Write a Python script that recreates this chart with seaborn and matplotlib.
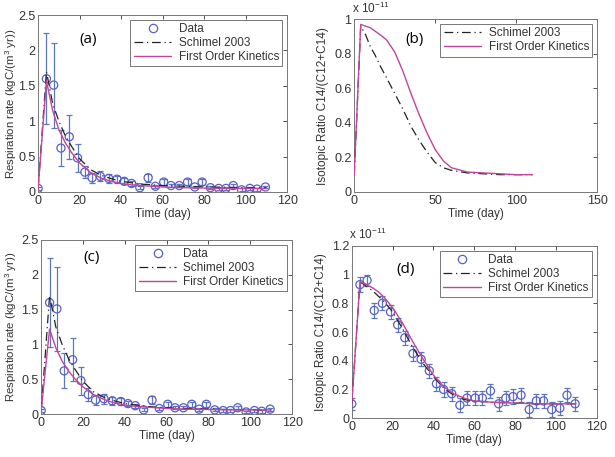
import numpy as np
import pandas as pd
import seaborn as sns
import matplotlib.pyplot as plt
from matplotlib.lines import Line2D

sns.set_style('white')
plt.rcParams['font.family'] = ['Liberation Sans', 'DejaVu Sans']
plt.rcParams['mathtext.fontset'] = 'custom'
plt.rcParams['mathtext.rm'] = 'Liberation Sans'

# measurement days
days = [0, 4, 7.5, 11, 15, 19, 22.5, 26, 30, 34, 38, 41.5, 45, 49, 53, 56.5,
        60.5, 64, 68, 72, 75.5, 79, 83, 87, 90.5, 94, 98, 102, 105.5, 109.5]

# respiration data (kgC/(m3 yr))
resp = [0.05, 1.6, 1.51, 0.62, 0.78, 0.48, 0.28, 0.2, 0.22, 0.19, 0.18, 0.15, 0.12, 0.06, 0.2,
        0.08, 0.14, 0.09, 0.09, 0.14, 0.07, 0.14, 0.06, 0.05, 0.05, 0.09, 0.03, 0.05, 0.04, 0.07]
resp_err = [0.02, 0.64, 0.6, 0.25, 0.31, 0.2, 0.09, 0.07, 0.07, 0.06, 0.05, 0.04, 0.03, 0.02, 0.06,
            0.02, 0.04, 0.02, 0.02, 0.04, 0.02, 0.04, 0.02, 0.02, 0.02, 0.02, 0.02, 0.02, 0.02, 0.02]

# isotopic ratio data (x 1e-11)
iso = [0.1, 0.93, 0.96, 0.75, 0.8, 0.74, 0.65, 0.56, 0.45, 0.41, 0.33, 0.24, 0.2, 0.17, 0.09,
       0.14, 0.14, 0.14, 0.19, 0.1, 0.14, 0.15, 0.16, 0.06, 0.12, 0.12, 0.06, 0.07, 0.16, 0.1]
iso_err = [0.04, 0.05, 0.04, 0.05, 0.05, 0.05, 0.05, 0.05, 0.05, 0.05, 0.05, 0.05, 0.05, 0.05, 0.05,
           0.05, 0.05, 0.05, 0.05, 0.05, 0.05, 0.05, 0.05, 0.05, 0.05, 0.05, 0.05, 0.05, 0.05, 0.05]

# model curves
t_model = [0, 4, 7, 10, 13, 16, 20, 25, 30, 35, 40, 45, 50, 55, 60, 70, 80, 90, 100, 110]
resp_schimel = [0.05, 1.70, 1.25, 1.0, 0.8, 0.65, 0.47, 0.32, 0.24, 0.19, 0.15, 0.13, 0.11, 0.10,
                0.09, 0.08, 0.07, 0.065, 0.06, 0.06]
resp_first_a = [0.05, 1.57, 1.15, 0.88, 0.7, 0.56, 0.41, 0.28, 0.2, 0.15, 0.12, 0.1, 0.09, 0.08,
                0.07, 0.06, 0.055, 0.05, 0.05, 0.05]
resp_first_c = [0.05, 1.22, 0.95, 0.76, 0.62, 0.51, 0.39, 0.28, 0.21, 0.16, 0.13, 0.11, 0.1, 0.09,
                0.08, 0.07, 0.065, 0.06, 0.06, 0.06]
iso_schimel_b = [0.1, 0.96, 0.91, 0.84, 0.79, 0.73, 0.66, 0.57, 0.48, 0.38, 0.30, 0.23, 0.17, 0.14,
                 0.125, 0.11, 0.105, 0.10, 0.10, 0.10]
iso_first_b = [0.1, 0.97, 0.96, 0.95, 0.93, 0.91, 0.88, 0.81, 0.70, 0.57, 0.45, 0.34, 0.245, 0.18,
               0.14, 0.115, 0.11, 0.105, 0.10, 0.10]
iso_schimel_d = [0.1, 0.95, 0.92, 0.89, 0.85, 0.81, 0.74, 0.62, 0.49, 0.38, 0.29, 0.21, 0.16, 0.13,
                 0.12, 0.11, 0.105, 0.10, 0.10, 0.10]
iso_first_d = [0.1, 0.95, 0.93, 0.91, 0.88, 0.84, 0.77, 0.66, 0.53, 0.41, 0.30, 0.22, 0.17, 0.14,
               0.12, 0.11, 0.105, 0.10, 0.10, 0.10]

c_data = '#5a5ec8'
c_err = '#5a78c0'
c_first = '#c2449c'
c_sch = '#222222'
sch_ls = (0, (7, 3, 1, 3))
txt = '#333333'

fig = plt.figure(figsize=(6.15, 4.57), dpi=100)
ax_a = fig.add_axes([0.062, 0.580, 0.405, 0.387])
ax_b = fig.add_axes([0.576, 0.580, 0.395, 0.378])
ax_c = fig.add_axes([0.067, 0.094, 0.408, 0.381])
ax_d = fig.add_axes([0.572, 0.085, 0.398, 0.377])


def draw_data(ax, y, err):
    ax.errorbar(days, y, yerr=err, fmt='none', ecolor=c_err, elinewidth=0.9, capsize=2.2, capthick=0.9)
    sns.scatterplot(x=days, y=y, ax=ax, marker='o', s=34, facecolors='none',
                    edgecolor=c_data, linewidth=0.9, zorder=3)


def draw_models(ax, sch, first):
    sns.lineplot(x=t_model, y=sch, ax=ax, color=c_sch, linestyle=sch_ls, linewidth=0.9, zorder=4)
    sns.lineplot(x=t_model, y=first, ax=ax, color=c_first, linewidth=1.0, zorder=4)


def style(ax, xlim, xt, ylim, yt, ylab, label, lpos, ylab_x, ylab_fs=8.5):
    ax.set_xlim(*xlim)
    ax.set_ylim(*ylim)
    ax.set_xticks(xt)
    ax.set_yticks(yt)
    ax.set_xticklabels([f'{v:g}' for v in xt])
    ax.set_yticklabels([f'{v:g}' for v in yt])
    ax.tick_params(direction='in', length=3, width=0.6, top=True, right=True,
                   labelsize=9, colors=txt, pad=2)
    for s in ax.spines.values():
        s.set_color('#777777')
        s.set_linewidth(0.7)
    ax.set_xlabel('Time (day)', fontsize=8.5, color=txt, labelpad=1)
    ax.set_ylabel(ylab, fontsize=ylab_fs, color=txt)
    ax.yaxis.set_label_coords(ylab_x, 0.5)
    ax.text(lpos[0], lpos[1], label, transform=ax.transAxes, fontsize=11,
            family=['Open Sans', 'DejaVu Sans'], color='black', ha='center', va='center')


h_data = Line2D([], [], marker='o', ls='none', mfc='none', mec=c_data, ms=6, mew=0.9)
h_sch = Line2D([], [], color=c_sch, ls=sch_ls, lw=0.9)
h_first = Line2D([], [], color=c_first, lw=1.0)


def legend(ax, handles, labels):
    lg = ax.legend(handles, labels, loc='upper right', fontsize=8.5, frameon=True, fancybox=False,
                   edgecolor='#555555', handlelength=3.2, borderpad=0.3, labelspacing=0.15,
                   handletextpad=0.6, borderaxespad=0.4)
    lg.get_frame().set_linewidth(0.7)
    for t in lg.get_texts():
        t.set_color(txt)


resp_label = 'Respiration rate (kgC/(m$^3$ yr))'
iso_label = 'Isotopic Ratio C14/(C12+C14)'
all_labels = ['Data', 'Schimel 2003', 'First Order Kinetics']

# (a)
draw_data(ax_a, resp, resp_err)
draw_models(ax_a, resp_schimel, resp_first_a)
style(ax_a, (0, 120), [0, 20, 40, 60, 80, 100, 120], (0, 2.5), [0, 0.5, 1, 1.5, 2, 2.5],
      resp_label, '(a)', (0.2, 0.86), -0.075, 8.2)
legend(ax_a, [h_data, h_sch, h_first], all_labels)

# (b)
draw_models(ax_b, iso_schimel_b, iso_first_b)
style(ax_b, (0, 150), [0, 50, 100, 150], (0, 1), [0, 0.2, 0.4, 0.6, 0.8, 1],
      iso_label, '(b)', (0.25, 0.88), -0.105)
legend(ax_b, [h_sch, h_first], all_labels[1:])
ax_b.text(-0.01, 1.02, 'x 10$^{-11}$', transform=ax_b.transAxes, fontsize=8.5, color=txt,
          ha='left', va='bottom')

# (c)
draw_data(ax_c, resp, resp_err)
draw_models(ax_c, resp_schimel, resp_first_c)
style(ax_c, (0, 120), [0, 20, 40, 60, 80, 100, 120], (0, 2.5), [0, 0.5, 1, 1.5, 2, 2.5],
      resp_label, '(c)', (0.2, 0.9), -0.09, 8.2)
legend(ax_c, [h_data, h_sch, h_first], all_labels)

# (d)
draw_data(ax_d, iso, iso_err)
draw_models(ax_d, iso_schimel_d, iso_first_d)
style(ax_d, (0, 120), [0, 20, 40, 60, 80, 100, 120], (0, 1.2), [0, 0.2, 0.4, 0.6, 0.8, 1, 1.2],
      iso_label, '(d)', (0.22, 0.86), -0.1)
legend(ax_d, [h_data, h_sch, h_first], all_labels)
ax_d.text(-0.01, 1.02, 'x 10$^{-11}$', transform=ax_d.transAxes, fontsize=8.5, color=txt,
          ha='left', va='bottom')

fig.savefig('out.png', dpi=100)
